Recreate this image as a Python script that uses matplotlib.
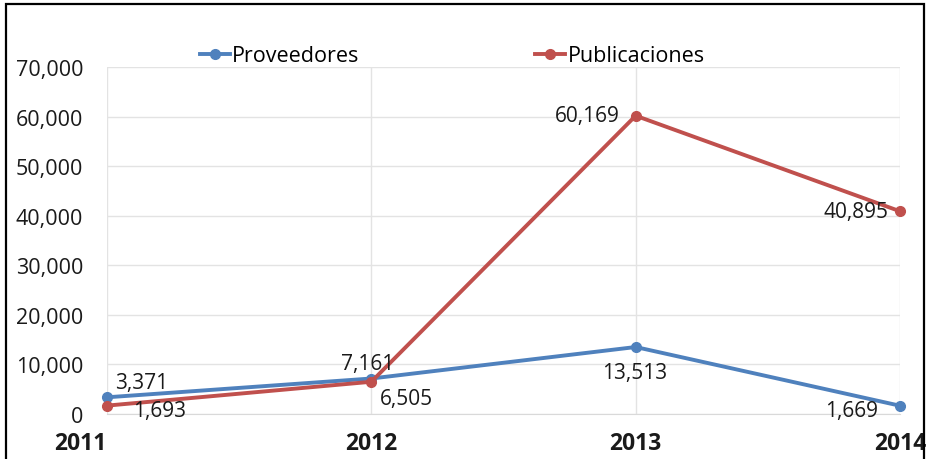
import matplotlib.pyplot as plt
from matplotlib.patches import Rectangle
from matplotlib.ticker import FuncFormatter

years = ['2011', '2012', '2013', '2014']
proveedores = [3371, 7161, 13513, 1669]
publicaciones = [1693, 6505, 60169, 40895]

# label offsets in pixels (dx, dy, ha)
prov_off = [(8, 15, 'left'), (-4, 15, 'center'), (-1, -25, 'center'), (-22, -5, 'right')]
pub_off = [(26, -5, 'left'), (9, -17, 'left'), (-16, 0, 'right'), (-12, 0, 'right')]

plt.rcParams['font.family'] = ['Open Sans', 'DejaVu Sans']

blue = '#4F81BD'
red = '#C0504D'

fig = plt.figure(figsize=(9.27, 4.60), dpi=100)
ax = fig.add_axes([0.1154, 0.0978, 0.8555, 0.7544])

x = range(len(years))
ax.plot(x, proveedores, color=blue, lw=2.8, marker='o', ms=7,
        label='Proveedores', clip_on=False, zorder=3)
ax.plot(x, publicaciones, color=red, lw=2.8, marker='o', ms=7,
        label='Publicaciones', clip_on=False, zorder=3)

for vals, offs in [(proveedores, prov_off), (publicaciones, pub_off)]:
    for i, v in enumerate(vals):
        dx, dy, ha = offs[i]
        ax.annotate(f'{v:,}', (i, v), xytext=(dx, dy), textcoords='offset pixels',
                    ha=ha, va='center', fontsize=15, color='#1a1a1a', zorder=4)

ax.set_xlim(0, 3)
ax.set_ylim(0, 70000)
ax.set_yticks(range(0, 70001, 10000))
ax.yaxis.set_major_formatter(FuncFormatter(lambda v, p: f'{int(v):,}'))
ax.set_xticks(list(x))
ax.set_xticklabels(years, fontweight='bold', fontsize=16.5)
ax.get_xticklabels()[0].set_ha('right')
ax.tick_params(axis='y', labelsize=15.5, length=0, pad=17, labelcolor='#1a1a1a')
ax.tick_params(axis='x', length=0, pad=12, labelcolor='#1a1a1a')
ax.grid(True, color='#E3E3E3', lw=1)
for s in ax.spines.values():
    s.set_visible(False)
ax.spines['bottom'].set_visible(True)
ax.spines['bottom'].set_color('#D9D9D9')

fig.legend(*ax.get_legend_handles_labels(), loc='center left',
           bbox_to_anchor=(200 / 927, 1 - 57 / 460), ncol=2, frameon=False,
           fontsize=15.5, handlelength=1.4, handletextpad=0.1,
           columnspacing=8.15, borderpad=0, borderaxespad=0)

fig.patches.append(Rectangle((0.007, -0.01), 0.99, 1.0, transform=fig.transFigure,
                             fill=False, edgecolor='black', lw=1.6))

fig.savefig('out.png', dpi=100)
